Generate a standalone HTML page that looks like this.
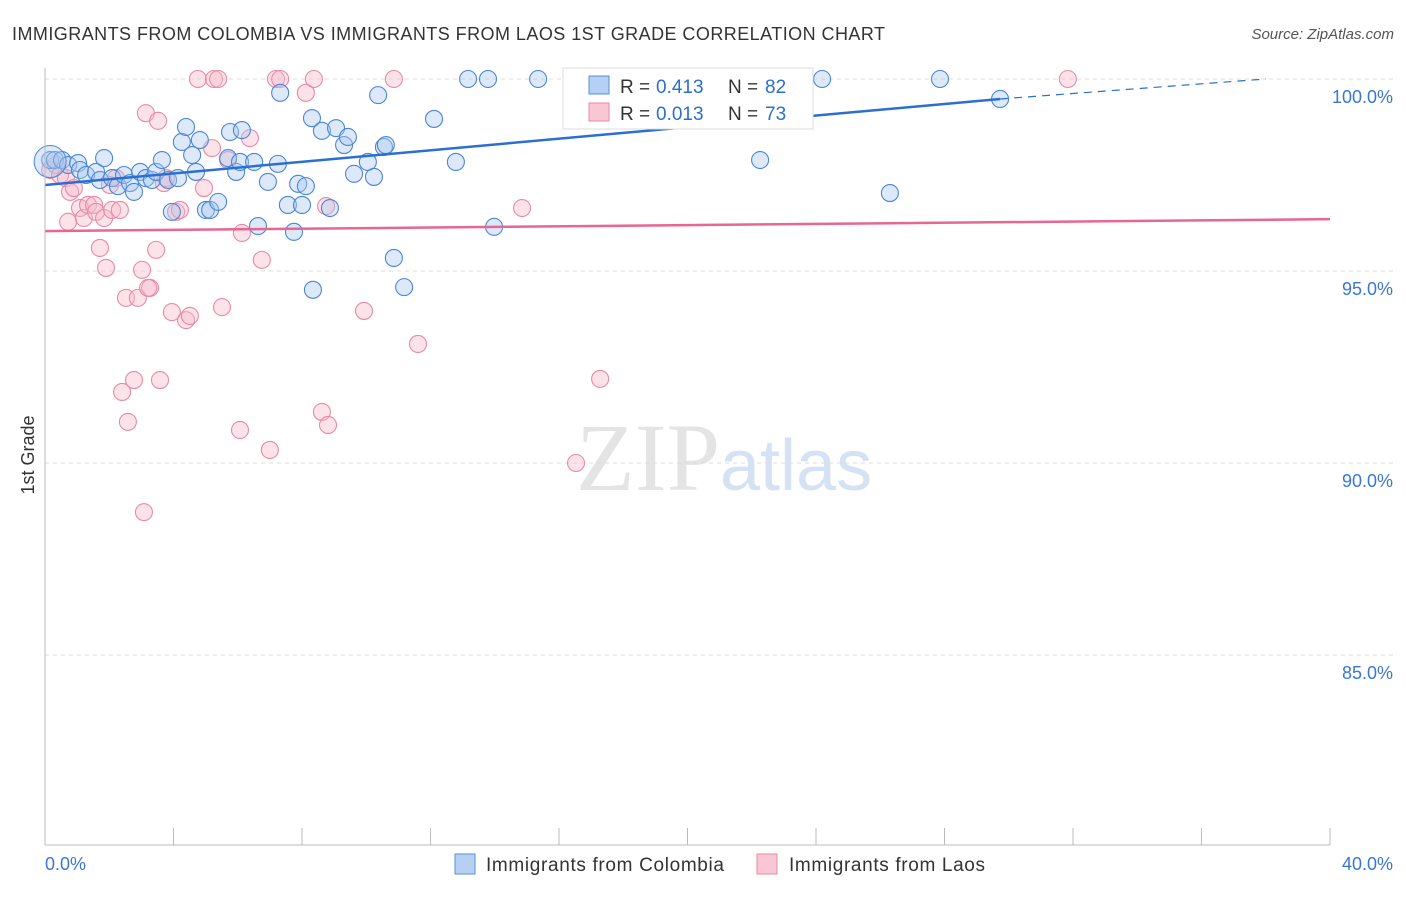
<!DOCTYPE html>
<html><head><meta charset="utf-8"><style>
body{margin:0;background:#fff;font-family:"Liberation Sans",sans-serif}
</style></head><body>
<svg width="1406" height="892" xmlns="http://www.w3.org/2000/svg" font-family="Liberation Sans, sans-serif">
<text x="12" y="40" font-size="18" fill="#333" textLength="873">IMMIGRANTS FROM COLOMBIA VS IMMIGRANTS FROM LAOS 1ST GRADE CORRELATION CHART</text>
<text x="1394" y="39" font-size="15" fill="#555" text-anchor="end" font-style="italic">Source: ZipAtlas.com</text>
<text x="720" y="490" font-size="96" fill="#e4e4e4" text-anchor="end" font-family="Liberation Serif, serif">ZIP</text>
<text x="720" y="490" font-size="72" fill="#d4e2f4">atlas</text>
<text transform="translate(34,455) rotate(-90)" font-size="18" fill="#333" text-anchor="middle">1st Grade</text>
<g id="grid"></g><g id="pts"></g><g id="lines"></g>
<line x1="45" y1="68" x2="45" y2="845" stroke="#bbb"/>
<line x1="45" y1="845" x2="1330" y2="845" stroke="#bbb"/>
<text x="45" y="870" font-size="18" fill="#3a76d6">0.0%</text>
<text x="1393" y="870" font-size="18" fill="#3a76d6" text-anchor="end">40.0%</text>
<g>
<rect x="563" y="68" width="250" height="61" fill="#fff" stroke="#ddd"/>
<rect x="589" y="76" width="20" height="18" fill="#b5d0f3" stroke="#5b8fd8"/>
<rect x="589" y="103" width="20" height="18" fill="#f8c6d5" stroke="#e88aa6"/>
<text x="620" y="93" font-size="19" fill="#333">R =</text>
<text x="656" y="93" font-size="19" fill="#2a6fd1">0.413</text>
<text x="728" y="93" font-size="19" fill="#333">N =</text>
<text x="765" y="93" font-size="19" fill="#2a6fd1">82</text>
<text x="620" y="120" font-size="19" fill="#333">R =</text>
<text x="656" y="120" font-size="19" fill="#2a6fd1">0.013</text>
<text x="728" y="120" font-size="19" fill="#333">N =</text>
<text x="765" y="120" font-size="19" fill="#2a6fd1">73</text>
</g>
<g>
<rect x="455" y="854" width="20" height="20" fill="#b5d0f3" stroke="#5b8fd8"/>
<text x="486" y="871" font-size="19" fill="#333" textLength="238">Immigrants from Colombia</text>
<rect x="757" y="854" width="20" height="20" fill="#f8c6d5" stroke="#e88aa6"/>
<text x="789" y="871" font-size="19" fill="#333" textLength="196">Immigrants from Laos</text>
</g>
</svg>
<script>
const yTicks=[100,95,90,85];
const xTicks=[0,4,8,12,16,20,24,28,32,36,40];
const blueX=[0.16,0.31,0.53,0.72,1.03,1.09,1.28,1.59,1.84,1.71,2.09,2.27,2.46,2.65,2.77,2.96,3.14,3.33,3.46,3.64,3.83,4.14,3.95,4.26,4.39,4.58,4.70,4.82,5.01,5.14,5.39,5.70,5.76,5.95,6.07,6.13,6.51,6.94,6.63,7.25,7.32,7.56,7.75,7.88,8.00,8.12,8.31,8.34,8.62,8.87,9.06,9.31,9.43,9.62,10.05,10.24,10.37,10.55,10.61,10.86,11.18,12.11,12.79,13.17,13.79,13.98,15.35,20.82,22.26,24.19,26.30,27.86,29.73];
const blueY=[97.89,97.89,97.89,97.76,97.81,97.63,97.50,97.58,97.94,97.37,97.42,97.21,97.50,97.29,97.06,97.58,97.42,97.37,97.58,97.89,97.37,97.42,96.54,98.36,98.75,98.02,97.58,98.41,96.59,96.59,96.80,97.94,98.62,97.58,97.84,98.67,97.84,97.32,96.17,97.79,99.64,96.72,96.02,97.27,96.72,97.21,98.98,94.51,98.65,96.64,98.72,98.28,98.49,97.53,97.84,97.45,99.58,98.23,98.28,95.34,94.58,98.96,97.84,100,100,96.15,100,100,97.89,100,97.03,100,99.48];
const pinkX=[0.16,0.34,0.47,0.65,0.78,0.90,0.72,1.09,1.21,1.34,1.53,1.59,1.71,1.84,1.90,2.02,2.09,2.21,2.33,2.52,2.58,2.77,2.89,3.02,2.40,3.08,3.14,3.27,3.46,3.52,3.58,3.70,3.77,3.95,4.08,4.20,4.39,4.51,4.76,4.95,5.20,5.26,5.39,5.51,5.70,6.13,6.07,6.38,6.75,7.00,7.19,7.32,8.12,8.37,8.62,8.75,8.81,9.93,10.86,11.61,14.85,16.53,17.28,31.84,3.21];
const pinkY=[97.63,97.76,97.50,97.42,97.06,97.16,96.28,96.64,96.38,96.72,96.72,96.54,95.60,96.38,95.08,97.24,96.59,97.42,96.59,94.30,91.07,92.16,94.30,95.03,91.85,88.72,99.11,94.56,95.55,98.91,92.16,97.29,97.42,93.93,96.54,96.59,93.72,93.83,100,97.16,98.20,100,100,94.06,97.89,95.99,90.86,98.46,95.29,90.34,100,100,99.64,100,91.33,96.69,90.99,93.96,100,93.10,96.64,90.0,92.19,100,94.56];
const blueLine=[[0,97.24],[29.73,99.48]];
const blueDash=[[29.73,99.48],[38.0,100]];
const pinkLine=[[0,96.04],[40,96.35]];
const sx=v=>45+v*32.125, sy=v=>79+(100-v)*38.4;
const NS="http://www.w3.org/2000/svg";
function mk(t,a,p){const e=document.createElementNS(NS,t);for(const k in a)e.setAttribute(k,a[k]);p.appendChild(e);return e;}
const grid=document.getElementById('grid'),pts=document.getElementById('pts'),lines=document.getElementById('lines');
yTicks.forEach(v=>{
 const l=mk('line',{x1:45,x2:1393,y1:sy(v),y2:sy(v),stroke:'#ddd','stroke-dasharray':'4,4'},grid);
 
 
 const t=mk('text',{x:1393,y:sy(v)+24,'font-size':18,fill:'#3a76d6','text-anchor':'end'},grid);
 t.textContent=v.toFixed(1)+'%';
 
 
});
xTicks.forEach(v=>{
 const l=mk('line',{x1:sx(v),x2:sx(v),y1:828,y2:845,stroke:'#bbb'},grid);
 
 
});
function dots(X,Y,fill,stroke,name){X.forEach((x,i)=>{
 const c=mk('circle',{cx:sx(x),cy:sy(Y[i]),r:8.5,fill:fill,'fill-opacity':0.4,stroke:stroke,'stroke-width':1.1},pts);
 
 
});}
dots(pinkX,pinkY,'#f8b8cb','#e88aa6','laos-point');
dots(blueX,blueY,'#a9c8f0','#4a86d6','colombia-point');
const big1=mk('circle',{cx:sx(0.16),cy:sy(97.85),r:16,fill:'#a9c8f0','fill-opacity':0.4,stroke:'#4a86d6'},pts);


function ln(p,stroke,w,dash,name){
 const l=mk('line',{x1:sx(p[0][0]),y1:sy(p[0][1]),x2:sx(p[1][0]),y2:sy(p[1][1]),stroke:stroke,'stroke-width':w},lines);
 if(dash)l.setAttribute('stroke-dasharray',dash);
 
 
}
ln(blueLine,'#2a6fd1',2.5,null,'colombia-trendline');
ln(blueDash,'#2a6fd1',1.2,'8,6','colombia-trendline-extension');
ln(pinkLine,'#e8668f',2.5,null,'laos-trendline');
</script>
</body></html>
